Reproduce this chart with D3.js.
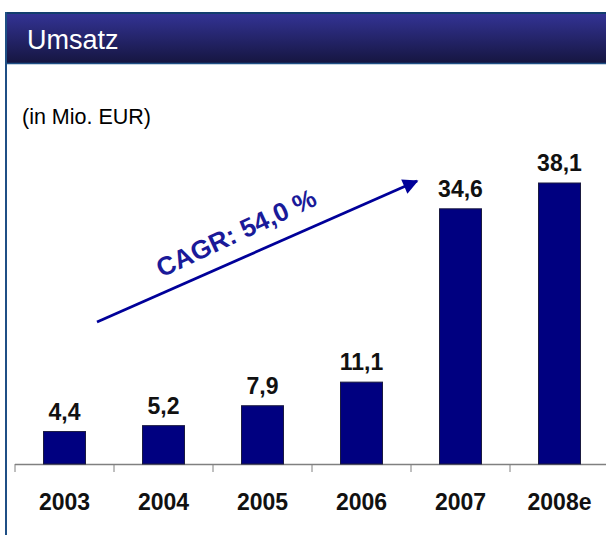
<!DOCTYPE html>
<html>
<head>
<meta charset="utf-8">
<script src="https://cdn.jsdelivr.net/npm/d3@7"></script>
<style>
html,body{margin:0;padding:0;background:#fff;}
svg{display:block;font-family:"Liberation Sans",Arial,sans-serif;}
</style>
</head>
<body>
<svg id="chart" width="606" height="535"></svg>
<script>
const categories = ["2003","2004","2005","2006","2007","2008e"];
const values = [4.4, 5.2, 7.9, 11.1, 34.6, 38.1];
const valueLabels = ["4,4","5,2","7,9","11,1","34,6","38,1"];
const title = "Umsatz";
const unitLabel = "(in Mio. EUR)";
const cagrLabel = "CAGR: 54,0 %";

const svg = d3.select("#chart");
const defs = svg.append("defs");
const grad = defs.append("linearGradient").attr("id","hdr").attr("x1",0).attr("y1",0).attr("x2",0).attr("y2",1);
grad.append("stop").attr("offset","0%").attr("stop-color","#343497");
grad.append("stop").attr("offset","100%").attr("stop-color","#15153f");

// header band
svg.append("rect").attr("x",5).attr("y",12).attr("width",601).attr("height",52).attr("fill","url(#hdr)");
svg.append("line").attr("x1",5).attr("x2",606).attr("y1",13).attr("y2",13).attr("stroke","#123e6e").attr("stroke-width",2);
svg.append("line").attr("x1",5).attr("x2",606).attr("y1",63.5).attr("y2",63.5).attr("stroke","#1f4f85").attr("stroke-width",1.5);
svg.append("line").attr("x1",6).attr("x2",6).attr("y1",12).attr("y2",535).attr("stroke","#1f4f85").attr("stroke-width",2);
svg.append("text").attr("x",27).attr("y",49).attr("fill","#fff").attr("font-size",27).text(title);

svg.append("text").attr("x",22).attr("y",124).attr("fill","#000").attr("font-size",21.5).text(unitLabel);

const baseY = 464;
const x = d3.scaleBand().domain(categories).range([15, 609]).padding(0);
const y = d3.scaleLinear().domain([0, 38.1]).range([baseY, 183]);
const barW = 42;

// axis ticks
svg.selectAll(".tk").data(categories).enter().append("line")
  .attr("x1",d=>x(d)).attr("x2",d=>x(d)).attr("y1",baseY).attr("y2",baseY+8).attr("stroke","#808080");
svg.append("line").attr("x1",15).attr("x2",606).attr("y1",baseY+0.5).attr("y2",baseY+0.5).attr("stroke","#808080").attr("stroke-width",1.5);

// bars
svg.selectAll(".bar").data(values).enter().append("rect")
  .attr("x",(d,i)=>x(categories[i]) + x.bandwidth()/2 - barW/2)
  .attr("y",d=>y(d))
  .attr("width",barW)
  .attr("height",d=>baseY - y(d))
  .attr("fill","#000080")
  .attr("stroke","#1a1a40").attr("stroke-width",1);

svg.selectAll(".vl").data(values).enter().append("text")
  .attr("x",(d,i)=>x(categories[i]) + x.bandwidth()/2)
  .attr("y",d=>y(d) - 12)
  .attr("text-anchor","middle").attr("font-weight","bold").attr("font-size",23).attr("fill","#111")
  .text((d,i)=>valueLabels[i]);

svg.selectAll(".cl").data(categories).enter().append("text")
  .attr("x",d=>x(d) + x.bandwidth()/2)
  .attr("y",510)
  .attr("text-anchor","middle").attr("font-weight","bold").attr("font-size",23).attr("fill","#111")
  .text(d=>d);

// CAGR arrow annotation
defs.append("marker").attr("id","ah").attr("viewBox","0 0 10 10").attr("refX",9).attr("refY",5)
  .attr("markerWidth",6.5).attr("markerHeight",5.5).attr("markerUnits","strokeWidth").attr("orient","auto")
  .append("path").attr("d","M0,0 L10,5 L0,10 z").attr("fill","#000099");
const ax0 = 97, ay0 = 322, ax1 = 417, ay1 = 181;
svg.append("line").attr("x1",ax0).attr("y1",ay0).attr("x2",ax1).attr("y2",ay1)
  .attr("stroke","#000099").attr("stroke-width",2.8).attr("marker-end","url(#ah)");
svg.append("text").attr("transform",`translate(240,241) rotate(-25)`)
  .attr("text-anchor","middle").attr("font-weight","bold").attr("font-size",26).attr("fill","#1a1a99")
  .text(cagrLabel);
</script>
</body>
</html>
